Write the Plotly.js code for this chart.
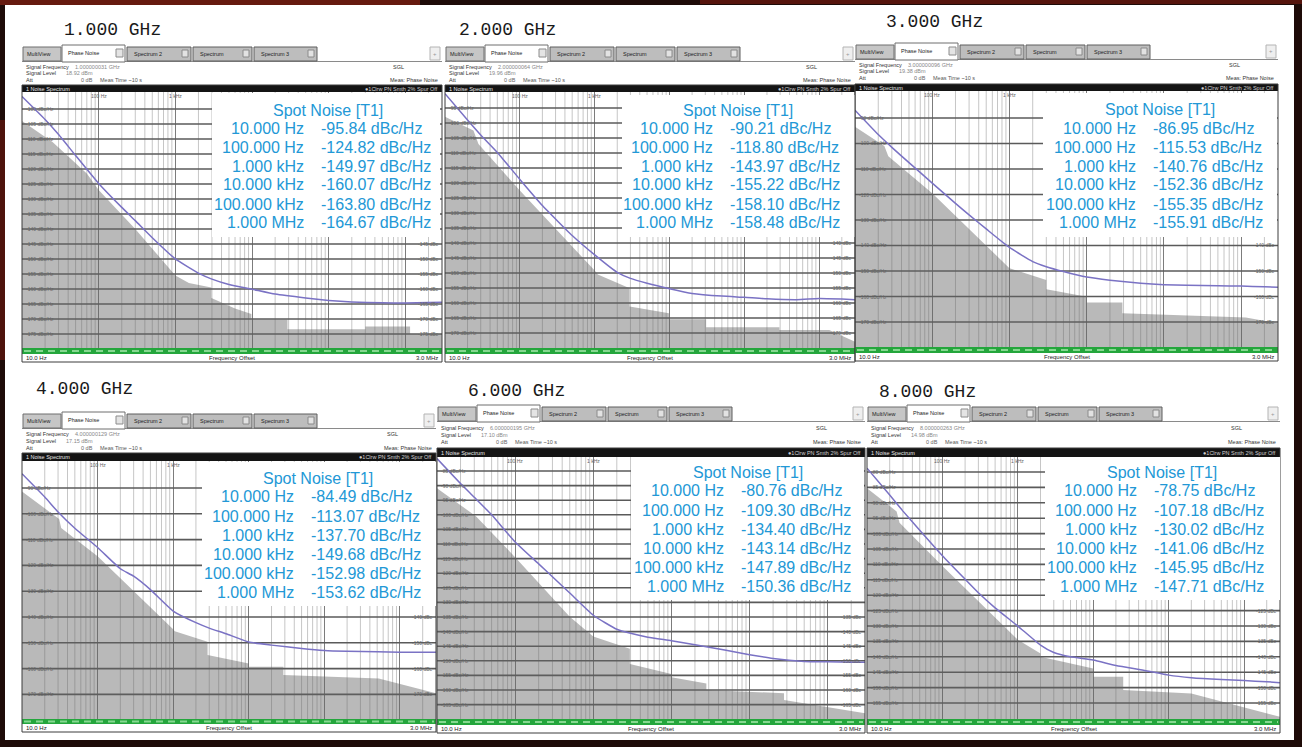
<!DOCTYPE html>
<html><head><meta charset="utf-8">
<script src="https://cdn.plot.ly/plotly-3.0.1.min.js"></script>
<style>html,body{margin:0;padding:0;background:#1e0b08;}</style>
</head><body>
<div id="chart" style="width:1302px;height:747px;"></div>
<script>
// ================= DATA =================
const carrierLabels = ["1.000 GHz","2.000 GHz","3.000 GHz","4.000 GHz","6.000 GHz","8.000 GHz"];
const signalFreqText = ["1.000000031 GHz","2.000000064 GHz","3.000000096 GHz","4.000000129 GHz","6.000000195 GHz","8.000000263 GHz"];
const signalLevelText = ["18.92 dBm","19.96 dBm","19.38 dBm","17.15 dBm","17.10 dBm","14.98 dBm"];
const spotLabels = ["10.000 Hz","100.000 Hz","1.000 kHz","10.000 kHz","100.000 kHz","1.000 MHz"];
const spotFreqs = [10,100,1e3,1e4,1e5,1e6];
const spot1G = [-95.84,-124.82,-149.97,-160.07,-163.80,-164.67];
const spot2G = [-90.21,-118.80,-143.97,-155.22,-158.10,-158.48];
const spot3G = [-86.95,-115.53,-140.76,-152.36,-155.35,-155.91];
const spot4G = [-84.49,-113.07,-137.70,-149.68,-152.98,-153.62];
const spot6G = [-80.76,-109.30,-134.40,-143.14,-147.89,-150.36];
const spot8G = [-78.75,-107.18,-130.02,-141.06,-145.95,-147.71];

// measured phase-noise trace (purple)
const traceFreqs = [10,20,30,50,100,200,300,500,1e3,2e3,3e3,5e3,1e4,2e4,5e4,1e5,2e5,5e5,1e6,2e6,3e6];
const trace1G = [-95.84,-103.5,-108.5,-115.5,-124.82,-132.8,-137.2,-142.9,-149.97,-154.7,-156.7,-158.5,-160.07,-161.7,-163.0,-163.8,-164.3,-164.6,-164.67,-164.5,-164.4];
const trace2G = [-90.21,-99.0,-104.0,-109.8,-118.80,-127.5,-132.0,-137.5,-143.97,-149.8,-151.8,-153.4,-155.22,-156.8,-157.7,-158.10,-158.6,-158.9,-158.48,-158.7,-158.9];
const trace3G = [-86.95,-96.5,-101.5,-107.5,-115.53,-123.5,-128.0,-133.5,-140.76,-146.3,-148.3,-150.2,-152.36,-153.6,-154.8,-155.35,-155.6,-155.8,-155.91,-156.2,-156.4];
const trace4G = [-84.49,-93.5,-99.3,-105.6,-113.07,-121.3,-124.2,-129.4,-137.70,-142.2,-144.3,-146.5,-149.68,-150.9,-152.2,-152.98,-153.3,-153.5,-153.62,-153.7,-153.7];
const trace6G = [-80.76,-89.3,-94.0,-100.0,-109.30,-116.8,-121.2,-126.8,-134.40,-139.2,-140.6,-141.9,-143.14,-144.5,-146.4,-147.89,-149.2,-150.2,-150.36,-150.5,-150.5];
const trace8G = [-78.75,-87.5,-92.7,-98.9,-107.18,-114.8,-119.2,-124.1,-130.02,-136.2,-138.6,-140.0,-141.06,-142.8,-144.5,-145.95,-146.8,-147.4,-147.71,-148.1,-148.4];

// grey stepped floor trace (upper edge of filled area)
const floorF1G = [10,25,70,100,300,1000,1500,2950,2950,6000,9800,9800,29000,29000,300000,300000,1150000,1150000,3000000];
const floorV1G = [-104,-111,-121.5,-127,-140,-155.5,-158,-159.5,-163,-166.5,-168.3,-170.2,-170.2,-173.4,-173.4,-172.5,-172.5,-175,-175];
const floorF2G = [10,24,28,100,1000,1100,2930,2930,9800,9800,30800,30800,293000,293000,1360000,3000000];
const floorV2G = [-97.9,-102.5,-107,-122.5,-149.2,-150.5,-155.1,-161.2,-163.4,-165.4,-165.4,-168.1,-168.1,-169,-169,-172.9];
const floorF3G = [10,24,27,100,1000,3000,3000,10000,10000,29000,29000,300000,1150000,3000000];
const floorV3G = [-93.4,-101,-105,-119.5,-148.9,-153.5,-157.2,-160.1,-162.4,-162.4,-166.6,-167.5,-168.2,-170.5];
const floorF4G = [10,31,33,100,1000,1050,2850,2850,10000,10000,28700,28700,525000,3000000];
const floorV4G = [-91.4,-102,-105.5,-116.5,-144.7,-145.5,-149.6,-154.7,-158,-159.3,-159.3,-162.5,-163.8,-169.6];
const floorF6G = [10,31.5,100,500,1000,2940,2940,10000,10000,28000,28000,276000,276000,3000000];
const floorV6G = [-90.9,-100.5,-114.5,-134.9,-141.7,-145.9,-151.1,-154.5,-155.6,-157.8,-160,-161.1,-163.4,-168];
const floorF8G = [10,24.7,27,100,1000,2000,2000,10000,10000,25000,25000,200000,3000000];
const floorV8G = [-85.3,-92.8,-96.5,-110.5,-134.5,-138.9,-140,-143.8,-146.5,-146.5,-150.8,-151.9,-159.5];

const majorFreqs = [100,1e3,1e4,1e5,1e6];
const topFreqLabels = ["100 Hz","1 kHz"];

// ================= LAYOUT GEOMETRY =================
const W=1302,H=747;
const X=v=>v/W, Y=v=>1-v/H;
const LF1=Math.log10(3e6);

const series = [
 {spot:spot1G, tr:trace1G, fF:floorF1G, fV:floorV1G},
 {spot:spot2G, tr:trace2G, fF:floorF2G, fV:floorV2G},
 {spot:spot3G, tr:trace3G, fF:floorF3G, fV:floorV3G},
 {spot:spot4G, tr:trace4G, fF:floorF4G, fV:floorV4G},
 {spot:spot6G, tr:trace6G, fF:floorF6G, fV:floorV6G},
 {spot:spot8G, tr:trace8G, fF:floorF8G, fV:floorV8G}
];
const panels = [
 {L:22,R:442,T:45,info:[67,73,80],bb:[85,92],top:92,bot:348,g:[348,354],foot:358,box:[212,93,440,237],tc:328,lr:305,rl:320,ty:110,ry:128,title:[63,30],ref:-100,refPx:109,k:3,l0:-100,l1:-175,step:5},
 {L:445,R:855,T:45,info:[67,73,80],bb:[85,92],top:92,bot:348,g:[348,354],foot:358,box:[622,95,855,237],tc:738,lr:714,rl:729,ty:110,ry:128,title:[458,30],ref:-95,refPx:108,k:3,l0:-95,l1:-170,step:5},
 {L:855,R:1278,T:43,info:[65,71,78],bb:[84,91],top:91,bot:347,g:[347,353],foot:357,box:[1043,93,1277,237],tc:1160,lr:1137,rl:1152,ty:109,ry:128,title:[885,22],ref:-90,refPx:118,k:2.55,l0:-90,l1:-170,step:10},
 {L:22,R:436,T:412,info:[434,441,448],bb:[453,461],top:461,bot:719,g:[719,724],foot:728,box:[202,462,436,606],tc:318,lr:295,rl:310,ty:478,ry:497,title:[35,389],ref:-90,refPx:488,k:2.58,l0:-90,l1:-170,step:10},
 {L:437,R:865,T:405,info:[428,435,442],bb:[448,457],top:457,bot:719,g:[719,725],foot:729,box:[631,457,864,600],tc:748,lr:725,rl:740,ty:472,ry:491,title:[467,391],ref:-85,refPx:471,k:2.92,l0:-85,l1:-165,step:5},
 {L:867,R:1280,T:405,info:[428,435,442],bb:[448,457],top:457,bot:719,g:[719,725],foot:729,box:[1045,457,1280,600],tc:1162,lr:1138,rl:1153,ty:472,ry:491,title:[878,392],ref:-80,refPx:472,k:3.08,l0:-80,l1:-155,step:5}
];

const data=[], shapes=[], annotations=[];
const layout={width:W,height:H,autosize:false,margin:{l:0,r:0,t:0,b:0,pad:0},paper_bgcolor:'#1e0b08',plot_bgcolor:'#ffffff',
  showlegend:false,shapes:shapes,annotations:annotations,hovermode:false};
const SANS='Liberation Sans, Arial, sans-serif';
function rect(x0,y0,x1,y1,fill,line,lw,layer){
  shapes.push({type:'rect',xref:'paper',yref:'paper',x0:X(x0),x1:X(x1),y0:Y(y1),y1:Y(y0),
    fillcolor:fill,line:{color:line||'rgba(0,0,0,0)',width:lw||0},layer:layer||'above'});
}
function hline(x0,x1,y,color,w,dash){
  shapes.push({type:'line',xref:'paper',yref:'paper',x0:X(x0),x1:X(x1),y0:Y(y),y1:Y(y),line:{color:color,width:w,dash:dash||'solid'},layer:'above'});
}
function txt(x,y,s,size,color,xanchor,family){
  annotations.push({xref:'paper',yref:'paper',x:X(x),y:Y(y),text:s,showarrow:false,
    xanchor:xanchor||'left',yanchor:'middle',borderpad:0,font:{size:size,color:color,family:family||SANS}});
}

// background white sheet
rect(5,5,1294,740,'#ffffff',null,0,'below');
rect(0,0,420,5,'rgba(120,30,18,0.8)',null,0,'below');
rect(700,0,1302,4,'rgba(110,25,15,0.7)',null,0,'below');
rect(0,120,5,360,'rgba(110,25,15,0.6)',null,0,'below');

panels.forEach((p,i)=>{
  const s=series[i];
  const n=i+1, sx=(n===1?'':String(n));
  const xr='x'+sx, yr='y'+sx;
  const yTop=p.ref+(p.refPx-p.top)/p.k, yBot=p.ref-(p.bot-p.refPx)/p.k;
  const lines=[]; for(let v=p.l0; v>=p.l1-0.01; v-=p.step) lines.push(v);
  const fx=f=>p.L+(Math.log10(f)-1)/(LF1-1)*(p.R-p.L);
  const vy=v=>p.refPx+(p.ref-v)*p.k;

  layout['xaxis'+sx]={type:'log',range:[1,LF1],domain:[X(p.L),X(p.R)],anchor:yr,showticklabels:false,ticks:'',
    tickmode:'array',tickvals:majorFreqs,showgrid:true,gridcolor:'#7c7c7c',gridwidth:1,zeroline:false,showline:false,fixedrange:true};
  layout['yaxis'+sx]={range:[yBot,yTop],domain:[Y(p.bot),Y(p.top)],anchor:xr,tickmode:'array',tickvals:[],showticklabels:false,
    ticks:'',showgrid:false,zeroline:false,showline:false,fixedrange:true};

  const mx=[], my=[];
  for(let d=10; d<3e6; d*=10){ for(let m=2;m<=9;m++){ const f=d*m; if(f<3e6){ mx.push(f,f,null); my.push(yBot,yTop,null);} } }
  data.push({type:'scatter',mode:'lines',x:mx,y:my,xaxis:xr,yaxis:yr,line:{color:'#c6c6c6',width:1},hoverinfo:'skip'});
  const hx=[], hy=[];
  lines.forEach(v=>{hx.push(10,3e6,null); hy.push(v,v,null);});
  data.push({type:'scatter',mode:'lines',x:hx,y:hy,xaxis:xr,yaxis:yr,line:{color:'#5a5a5a',width:1.6},hoverinfo:'skip'});
  data.push({type:'scatter',mode:'lines',x:s.fF.concat([3e6,10]),y:s.fV.concat([yBot,yBot]),fill:'toself',
    fillcolor:'rgba(100,100,100,0.45)',line:{width:0,color:'rgba(0,0,0,0)'},xaxis:xr,yaxis:yr,hoverinfo:'skip'});
  data.push({type:'scatter',mode:'lines',x:traceFreqs,y:s.tr,xaxis:xr,yaxis:yr,
    line:{color:'#7a72c4',width:1.5,shape:'spline',smoothing:0.5},hoverinfo:'skip'});

  lines.forEach(v=>{
    const y=vy(v);
    txt(p.L+3,y,v+' dBc/Hz',5,'#666');
    if(y>p.box[3]+3) txt(p.R-2,y,v+' dBc',5,'#666','right');
  });
  majorFreqs.slice(0,2).forEach((f,j)=>{ txt(fx(f),p.top+4,topFreqLabels[j],5,'#666','center'); });

  const L=p.L,R=p.R,T=p.T;
  hline(L,R,T+16.5,'#8a8a8a',1);
  rect(L+1,T+2,L+39,T+16,'#c6c6c6','#6e6e6e',1); txt(L+4,T+9,'MultiView',5.5,'#222');
  rect(L+40,T,L+103,T+17,'#ffffff','#6e6e6e',1); txt(L+45,T+8,'Phase Noise',5.5,'#222');
  rect(L+94,T+4,L+101,T+12,'#e4e4e4','#8c8c8c',1);
  const tabs=[['Spectrum 2',105,169],['Spectrum',171,230],['Spectrum 3',232,295]];
  tabs.forEach(t=>{
    rect(L+t[1],T+2,L+t[2],T+16,'#bdbdbd','#5e5e5e',1);
    txt(L+t[1]+6,T+9,t[0],5.5,'#222');
    rect(L+t[2]-9,T+5,L+t[2]-3,T+12,'#e2e2e2','#8a8a8a',1);
  });
  rect(R-12,T+2,R-2,T+15,'#efefef','#b4b4b4',1); txt(R-7,T+8.5,'+',6,'#999','center');
  txt(L+3,p.info[0],'Signal Frequency',5.5,'#333'); txt(L+52,p.info[0],signalFreqText[i],5.5,'#888');
  txt(L+3,p.info[1],'Signal Level',5.5,'#333'); txt(L+72,p.info[1],signalLevelText[i],5.5,'#888','right');
  txt(L+3,p.info[2],'Att',5.5,'#333'); txt(L+72,p.info[2],'0 dB',5.5,'#666','right');
  txt(L+77,p.info[2],'Meas Time ~10 s',5.5,'#555');
  txt(R-50,p.info[0],'SGL',5.5,'#333');
  txt(R-3,p.info[2],'Meas: Phase Noise',5.5,'#333','right');
  rect(L,p.bb[0],R,p.bb[1],'#141414');
  txt(L+3,(p.bb[0]+p.bb[1])/2,'1 Noise Spectrum',5.5,'#e8e8e8');
  txt(R-3,(p.bb[0]+p.bb[1])/2,'●1Clrw PN Smth 2% Spur Off',5.5,'#cfcfcf','right');
  rect(L,p.g[0],R,p.g[1],'#24a63c');
  hline(L+2,R-2,(p.g[0]+p.g[1])/2,'#86d890',2,'7px,5px');
  txt(L+3,p.foot,'10.0 Hz',6,'#222');
  txt((L+R)/2,p.foot,'Frequency Offset',6,'#222','center');
  txt(R-3,p.foot,'3.0 MHz',6,'#222','right');
  rect(L,p.bb[0],R,p.foot+4,'rgba(0,0,0,0)','#3c3c3c',1);
  rect(p.box[0],p.box[1],p.box[2],p.box[3],'#ffffff');
  const BLUE='#2298d6';
  txt(p.tc,p.ty,'Spot Noise [T1]',16,BLUE,'center');
  spotLabels.forEach((lab,j)=>{
    const y=p.ry+19*j;
    txt(p.lr,y,lab,16,BLUE,'right');
    txt(p.rl,y,s.spot[j].toFixed(2)+' dBc/Hz',16,BLUE,'left');
  });
  txt(p.title[0],p.title[1],carrierLabels[i],18,'#1a1a1a','left','Liberation Mono, Courier New, monospace');
});

Plotly.newPlot('chart',data,layout,{staticPlot:true,displayModeBar:false});
</script>
</body></html>
